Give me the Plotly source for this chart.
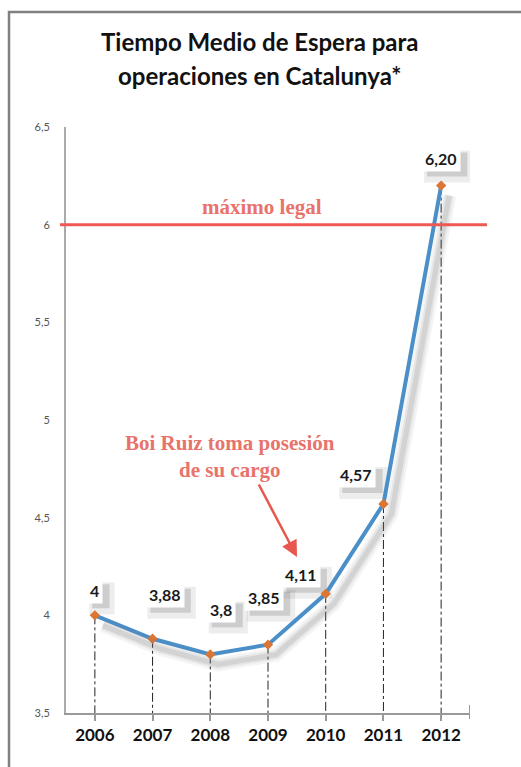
import plotly.graph_objects as go

# ---- data ----
years = ["2006", "2007", "2008", "2009", "2010", "2011", "2012"]
values = [4.0, 3.88, 3.8, 3.85, 4.11, 4.57, 6.20]
value_labels = ["4", "3,88", "3,8", "3,85", "4,11", "4,57", "6,20"]
y_tickvals = [3.5, 4, 4.5, 5, 5.5, 6, 6.5]
y_ticktext = ["3,5", "4", "4,5", "5", "5,5", "6", "6,5"]
legal_max = 6.0
title_lines = ["Tiempo Medio de Espera para", "operaciones en Catalunya*"]
legal_text = "máximo legal"
event_text = "Boi Ruiz toma posesión<br>de su cargo"

W, H = 521, 767
L, R, T, B = 66, 51, 127, 54
plot_w = W - L - R
plot_h = H - T - B
YMIN, YMAX = 3.5, 6.5
n = len(years)

def py(pxy):  # pixel y -> paper y
    return (H - B - pxy) / plot_h

def px(pxx):  # pixel x -> paper x
    return (pxx - L) / plot_w

fig = go.Figure()

# soft shadow of the line (drawn on shifted overlay axes)
cat_w = plot_w / n
dxs = 8 / cat_w
dys = 10 / (plot_h / (YMAX - YMIN))
for wdt, col in [(14, "rgba(120,120,120,0.08)"), (9, "rgba(120,120,120,0.12)"),
                 (5, "rgba(110,110,110,0.15)")]:
    fig.add_trace(go.Scatter(x=years, y=values, mode="lines", xaxis="x2", yaxis="y2",
                             line=dict(color=col, width=wdt),
                             hoverinfo="skip", showlegend=False))

# dash-dot drop lines
for yr, v in zip(years, values):
    fig.add_trace(go.Scatter(x=[yr, yr], y=[v, YMIN], mode="lines",
                             line=dict(color="#222", width=1, dash="dashdot"),
                             hoverinfo="skip", showlegend=False))

# main line
fig.add_trace(go.Scatter(x=years, y=values, mode="lines+markers",
                         line=dict(color="#4b8fc9", width=4),
                         marker=dict(symbol="diamond", size=8, color="#dc7634",
                                     line=dict(width=0)),
                         showlegend=False))

# label offsets (pixels) relative to points
offsets = [(0, 25), (12, 44), (11, 45), (-4, 47), (-25, 19), (-27, 29), (0, 27)]
annotations = []
shapes = []

def label_width(s):
    return sum(4.5 if c == "," else 9.3 for c in s) + 8

for i, (v, lab, (dx, dy)) in enumerate(zip(values, value_labels, offsets)):
    w = label_width(lab)
    h = 24
    for sx, sy, grow, alpha in [(7, -8, 4, 0.10), (6, -6, 0, 0.20)]:
        shapes.append(dict(type="rect", xref="x", yref="y", layer="below",
                           xsizemode="pixel", ysizemode="pixel", xanchor=i, yanchor=v,
                           x0=dx + sx - w / 2 - grow, x1=dx + sx + w / 2 + grow,
                           y0=dy + sy - h / 2 - grow, y1=dy + sy + h / 2 + grow,
                           fillcolor="rgba(80,80,80,%.2f)" % alpha, line=dict(width=0)))
    annotations.append(dict(xref="x", yref="y", x=i, y=v, text="<b>" + lab + "</b>",
                            showarrow=False, xanchor="center", yanchor="middle",
                            xshift=dx, yshift=dy,
                            font=dict(family="Lato", size=16, color="#1a1a1a"),
                            bgcolor="white", borderpad=3))

# titles
for txt, yy in zip(title_lines, [42, 75]):
    annotations.append(dict(xref="paper", yref="paper", x=px(260), y=py(yy),
                            xanchor="center", yanchor="middle",
                            text="<b>" + txt + "</b>", showarrow=False,
                            font=dict(family="Lato", size=24, color="#111")))

# red texts
annotations.append(dict(xref="paper", yref="paper", x=px(262), y=py(207),
                        xanchor="center", yanchor="middle",
                        text="<b>" + legal_text + "</b>", showarrow=False,
                        font=dict(family="Liberation Serif", size=21, color="#e8736b")))
annotations.append(dict(xref="paper", yref="paper", x=px(230), y=py(456),
                        xanchor="center", yanchor="middle",
                        text="<b>" + event_text + "</b>", showarrow=False,
                        font=dict(family="Liberation Serif", size=21, color="#e8736b")))
# arrow
annotations.append(dict(xref="paper", yref="paper", x=px(297), y=py(557),
                        ax=258 - 297, ay=483 - 557, text="", showarrow=True,
                        arrowhead=2, arrowsize=1.3, arrowwidth=2.5,
                        arrowcolor="#e8574e"))

shapes += [
    # red legal max line
    dict(type="line", xref="paper", yref="y", x0=px(60), x1=px(487),
         y0=legal_max, y1=legal_max, line=dict(color="#ec5a50", width=3)),
    # outer border
    dict(type="rect", xref="paper", yref="paper", x0=px(9), x1=px(560),
         y0=py(800), y1=py(12), line=dict(color="#808080", width=2.5)),
    # end tick of x axis
    dict(type="line", xref="x", yref="paper", x0=n - 0.5, x1=n - 0.5,
         y0=py(719), y1=py(705), line=dict(color="#999", width=2)),
]

fig.update_layout(
    width=W, height=H, autosize=False,
    margin=dict(l=L, r=R, t=T, b=B),
    paper_bgcolor="white", plot_bgcolor="white",
    showlegend=False,
    xaxis=dict(type="category", range=[-0.5, n - 0.5], showgrid=False,
               showline=True, linecolor="#999", linewidth=2,
               ticks="outside", ticklen=6, tickcolor="#999", tickwidth=2,
               tickfont=dict(family="Lato", size=17, color="#111", weight="bold"),
               zeroline=False, fixedrange=True),
    yaxis=dict(range=[YMIN, YMAX], tickvals=y_tickvals, ticktext=y_ticktext,
               showgrid=False, showline=True, linecolor="#aaa", linewidth=2,
               ticks="", tickfont=dict(family="Lato", size=11, color="#555"),
               ticklabelstandoff=12, zeroline=False),
    xaxis2=dict(type="category", range=[-0.5 - dxs, n - 0.5 - dxs], overlaying="x",
                visible=False, categoryorder="array", categoryarray=years),
    yaxis2=dict(range=[YMIN + dys, YMAX + dys], overlaying="y", visible=False),
    annotations=annotations,
    shapes=shapes,
)

fig.write_html("out.html")
